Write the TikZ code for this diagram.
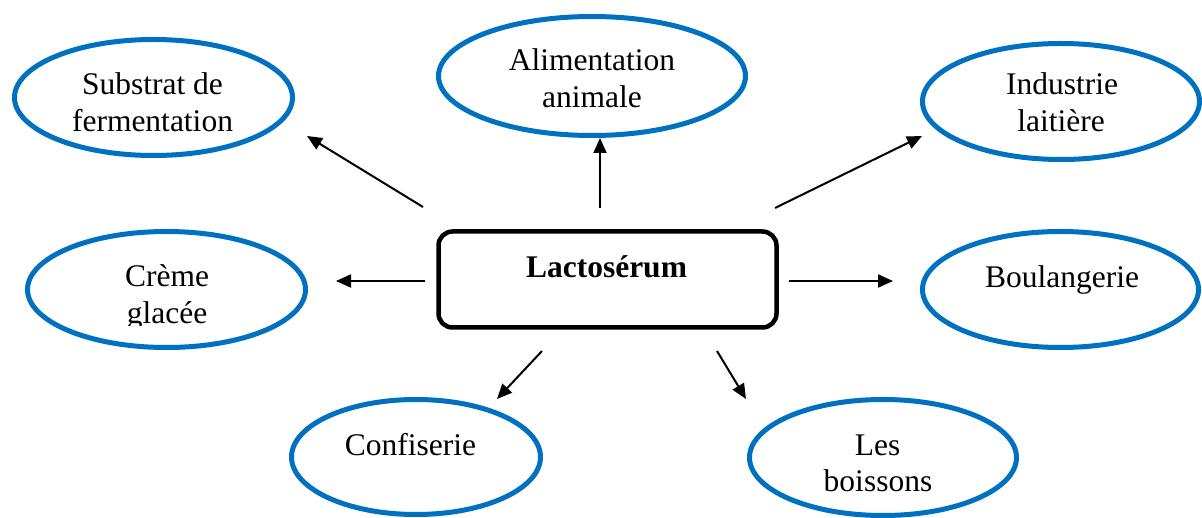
\documentclass[tikz,border=0pt]{standalone}
\usepackage{fontspec}
\setmainfont{Liberation Serif}
\usetikzlibrary{shapes.geometric,arrows.meta}
\definecolor{appblue}{RGB}{0,112,192}
\tikzset{
  usage/.style={ellipse, draw=appblue, line width=5pt, inner sep=0pt},
  hub/.style={draw=black, line width=4.5pt, rounded corners=14pt, inner sep=0pt},
  txt/.style={anchor=base, inner sep=0pt, font=\fontsize{31.5}{37}\selectfont},
  arr/.style={line width=2pt, -{Triangle[length=15pt,width=13pt]}}
}
\begin{document}
\begin{tikzpicture}[x=1pt,y=-1pt]
\useasboundingbox (0,0) rectangle (1202,518);

% central box
\node[hub, minimum width=338pt, minimum height=96pt] (hub) at (607.5,279.5) {};
\node[txt, font=\fontsize{31.5}{37}\selectfont\bfseries] (hub-t) at (606.5,278) {Lactosérum};

% application ellipses
\node[usage, minimum width=278pt, minimum height=116pt] (sub) at (153.5,97.5) {};
\node[usage, minimum width=307pt, minimum height=119pt] (alim) at (592,76) {};
\node[usage, minimum width=277pt, minimum height=116pt] (ind) at (1061,101.5) {};
\node[usage, minimum width=278pt, minimum height=116pt] (creme) at (166.5,289.5) {};
\node[usage, minimum width=276pt, minimum height=116pt] (boul) at (1060.5,289.5) {};
\node[usage, minimum width=249pt, minimum height=115pt] (conf) at (416,457) {};
\node[usage, minimum width=267pt, minimum height=116pt] (boiss) at (883,457.5) {};

% labels
\node[txt] (sub-a) at (152.5,95) {Substrat de};
\node[txt] (sub-b) at (152.5,132) {fermentation};
\node[txt] (alim-a) at (592,71) {Alimentation};
\node[txt] (alim-b) at (592,108) {animale};
\node[txt] (ind-a) at (1062,95) {Industrie};
\node[txt] (ind-b) at (1061,132) {laitière};
\node[txt] (creme-a) at (167,287) {Crème};
\begin{scope}
  \clip (0,200) rectangle (340,326);
  \node[txt] (creme-b) at (167,324) {glacée};
\end{scope}
\node[txt] (boul-a) at (1062,288) {Boulangerie};
\node[txt] (conf-a) at (410.5,455) {Confiserie};
\node[txt] (boiss-a) at (877.5,455) {Les};
\node[txt] (boiss-b) at (878,491) {boissons};

% arrow ends
\coordinate (s1) at (423,207);  \coordinate (e1) at (307,136);
\coordinate (s2) at (600,208);  \coordinate (e2) at (600,138);
\coordinate (s3) at (775,208);  \coordinate (e3) at (922,136);
\coordinate (s4) at (425,281);  \coordinate (e4) at (336,281);
\coordinate (s5) at (789,281);  \coordinate (e5) at (893,281);
\coordinate (s6) at (542,351);  \coordinate (e6) at (497,399);
\coordinate (s7) at (717,351);  \coordinate (e7) at (746,399);

\draw[arr] (s1) -- (e1);
\draw[arr] (s2) -- (e2);
\draw[arr] (s3) -- (e3);
\draw[arr] (s4) -- (e4);
\draw[arr] (s5) -- (e5);
\draw[arr] (s6) -- (e6);
\draw[arr] (s7) -- (e7);
\end{tikzpicture}
\end{document}
